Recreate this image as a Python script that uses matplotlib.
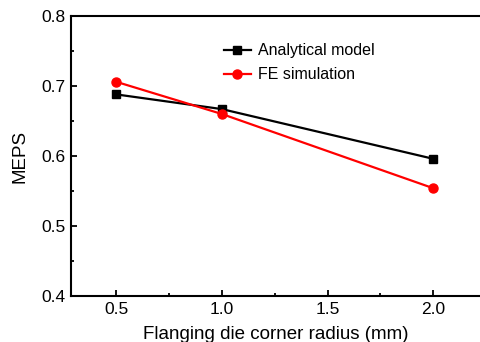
import numpy as np
import matplotlib.pyplot as plt
from matplotlib.ticker import MultipleLocator

plt.rcParams['font.family'] = ['Liberation Sans', 'DejaVu Sans']

# flanging die corner radius (mm)
radius = [0.5, 1.0, 2.0]
# MEPS values
meps_analytical = [0.688, 0.667, 0.596]
meps_fe = [0.706, 0.660, 0.554]

xticks = [0.5, 1.0, 1.5, 2.0]
yticks = [0.4, 0.5, 0.6, 0.7, 0.8]

fig = plt.figure(figsize=(4.81, 3.42), dpi=100)
ax = fig.add_axes([0.1476, 0.1345, 0.8524, 0.8187])

ax.plot(radius, meps_analytical, color='black', lw=1.6, marker='s', ms=6,
        label='Analytical model')
ax.plot(radius, meps_fe, color='red', lw=1.6, marker='o', ms=6.5,
        label='FE simulation')

ax.set_xlim(0.286, 2.226)
ax.set_ylim(0.4, 0.8)
ax.set_xticks(xticks)
ax.set_xticklabels(['%.1f' % v for v in xticks])
ax.set_yticks(yticks)
ax.set_yticklabels(['%.1f' % v for v in yticks])
ax.xaxis.set_minor_locator(MultipleLocator(0.25))
ax.yaxis.set_minor_locator(MultipleLocator(0.05))
ax.tick_params(which='major', direction='in', length=4, width=1.3, labelsize=12.5, pad=4)
ax.tick_params(which='minor', direction='in', length=2.5, width=1.3)
ax.tick_params(top=False, right=False, which='both')

for s in ['left', 'bottom', 'top']:
    ax.spines[s].set_linewidth(1.5)
ax.spines['right'].set_visible(False)

ax.set_xlabel('Flanging die corner radius (mm)', fontsize=13.5, labelpad=6.5)
ax.set_ylabel('MEPS', fontsize=13.5, labelpad=9)

ax.legend(loc='upper left', bbox_to_anchor=(0.358, 0.926), frameon=False,
          fontsize=11.5, handlelength=1.65, handletextpad=0.45, labelspacing=0.58,
          borderaxespad=0)

fig.savefig('out.png', dpi=100)
